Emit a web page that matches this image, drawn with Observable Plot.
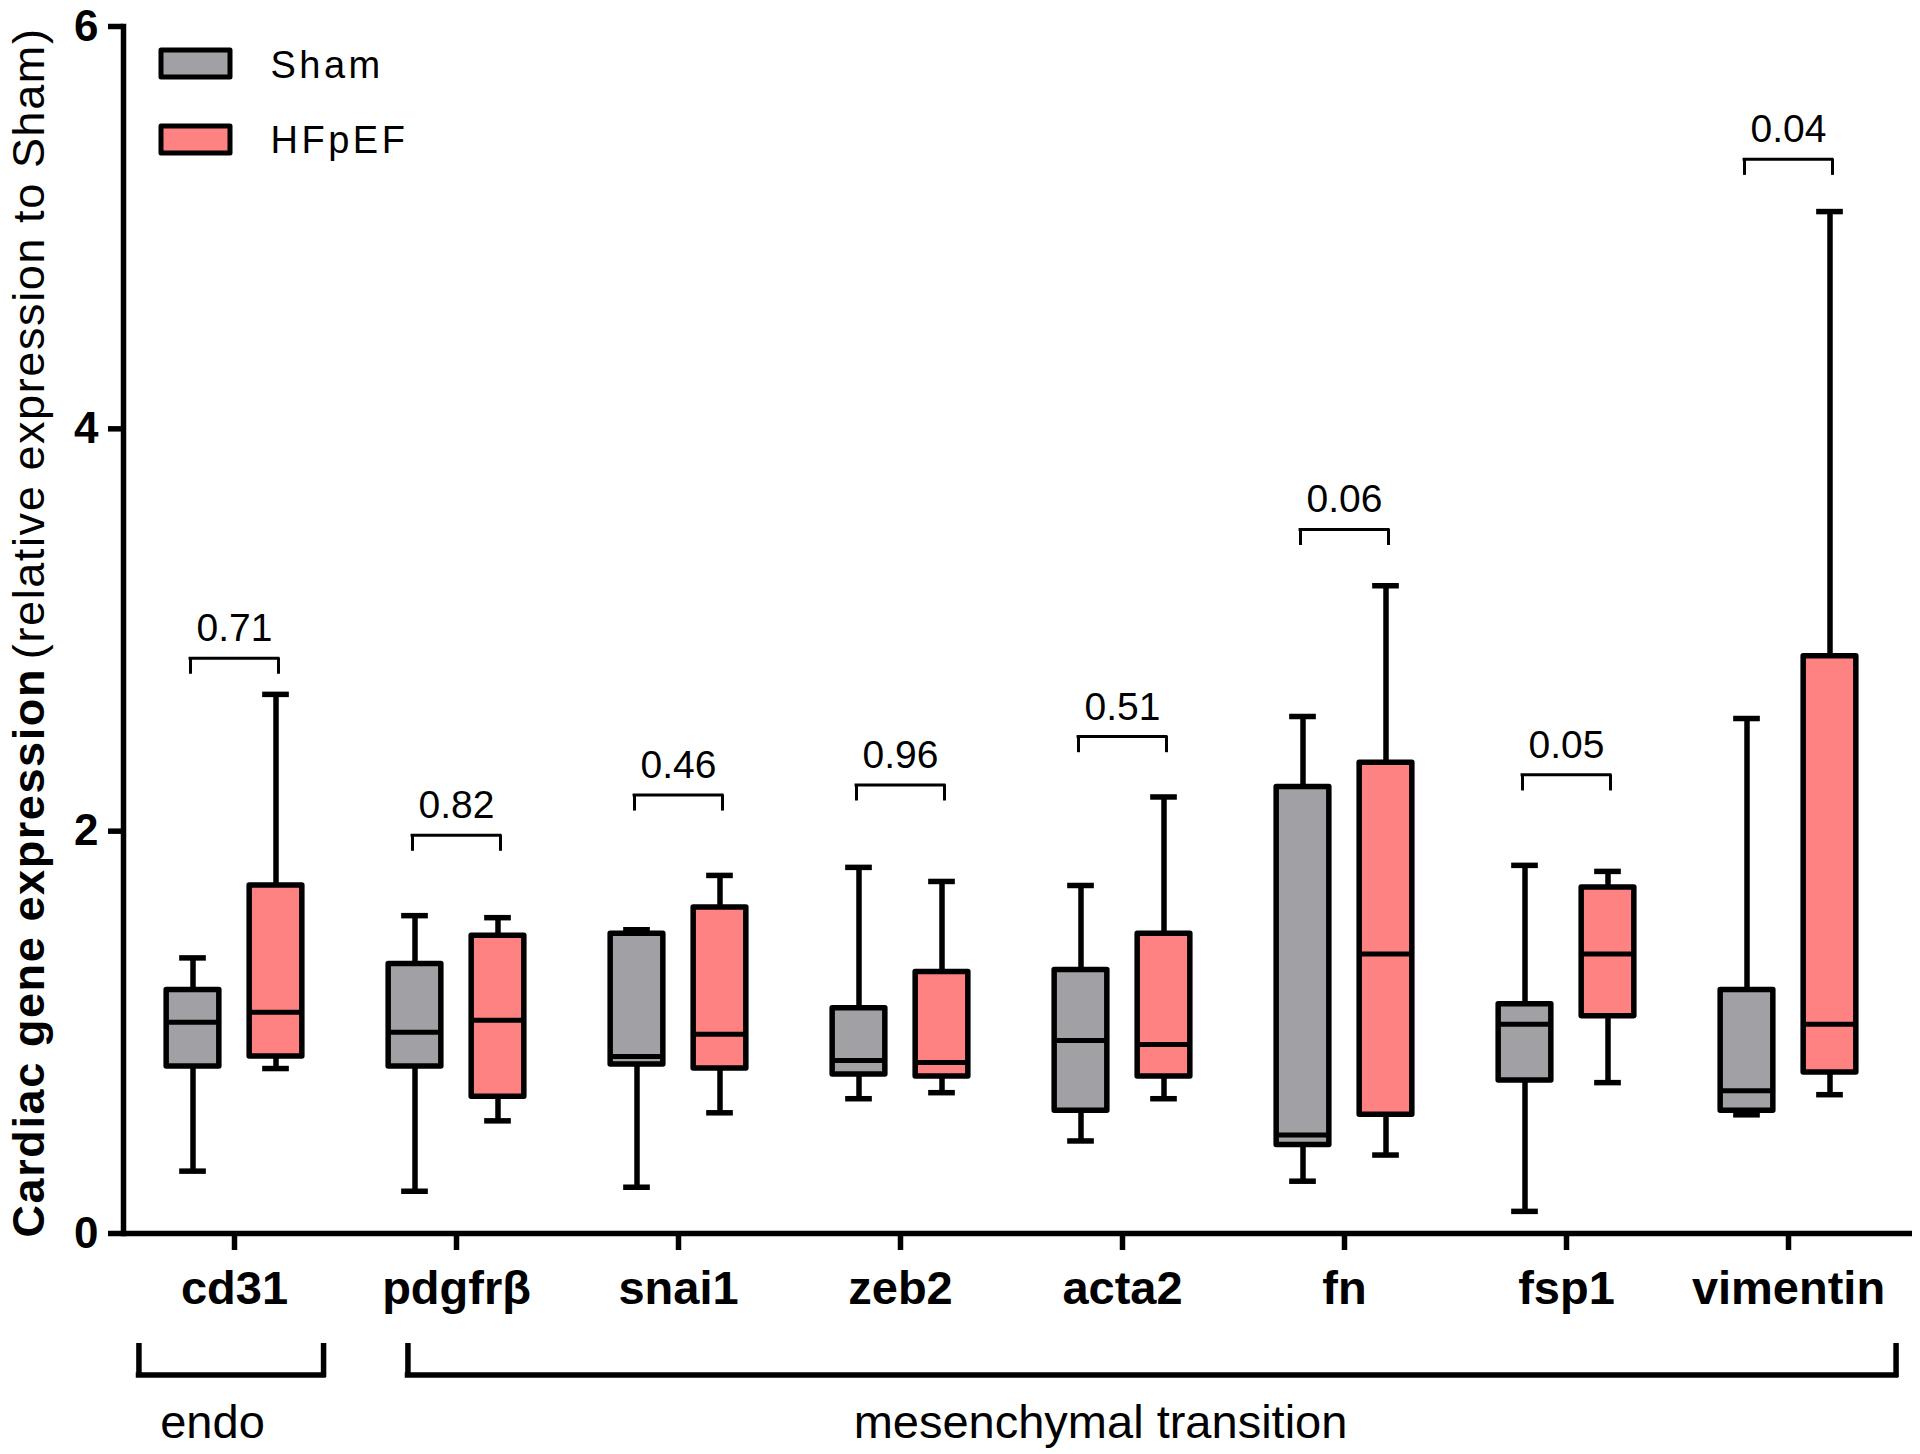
<!DOCTYPE html>
<html>
<head>
<meta charset="utf-8">
<script src="https://cdn.jsdelivr.net/npm/d3@7"></script>
<script src="https://cdn.jsdelivr.net/npm/@observablehq/plot@0.6"></script>
<style>
  html, body { margin: 0; padding: 0; background: white; }
  g[aria-description="legend-label"] text { letter-spacing: 3.5px; }
  g[aria-description="y-label"] text { letter-spacing: 1.6px; }
</style>
</head>
<body>
<div id="chart"></div>
<script>
// ---------------- data ----------------
const genes = ["cd31", "pdgfrβ", "snai1", "zeb2", "acta2", "fn", "fsp1", "vimentin"];
const groups = ["Sham", "HFpEF"];

// Sham: whisker min, Q1, median, Q3, whisker max
const shamMin    = [0.31, 0.21, 0.23, 0.67, 0.46, 0.26, 0.11, 0.59];
const shamQ1     = [0.83, 0.83, 0.84, 0.79, 0.61, 0.44, 0.76, 0.61];
const shamMedian = [1.05, 1.00, 0.88, 0.86, 0.96, 0.49, 1.04, 0.71];
const shamQ3     = [1.21, 1.34, 1.49, 1.12, 1.31, 2.22, 1.14, 1.21];
const shamMax    = [1.37, 1.58, 1.51, 1.82, 1.73, 2.57, 1.83, 2.56];

// HFpEF
const hfpefMin    = [0.82, 0.56, 0.60, 0.70, 0.67, 0.39, 0.75, 0.69];
const hfpefQ1     = [0.88, 0.68, 0.82, 0.78, 0.78, 0.59, 1.08, 0.80];
const hfpefMedian = [1.10, 1.06, 0.99, 0.85, 0.94, 1.39, 1.39, 1.04];
const hfpefQ3     = [1.73, 1.48, 1.62, 1.30, 1.49, 2.34, 1.72, 2.87];
const hfpefMax    = [2.68, 1.57, 1.78, 1.75, 2.17, 3.22, 1.80, 5.08];

// p values of the Sham vs HFpEF comparison, and the height of each bracket
const pValues      = ["0.71", "0.82", "0.46", "0.96", "0.51", "0.06", "0.05", "0.04"];
const bracketLevel = [2.86, 1.98, 2.18, 2.23, 2.47, 3.50, 2.28, 5.34];

// gene groups shown under the axis
const geneGroups = [
  {label: "endo", genes: ["cd31"]},
  {label: "mesenchymal transition", genes: ["pdgfrβ", "snai1", "zeb2", "acta2", "fn", "fsp1", "vimentin"]}
];

const yTicks = [0, 2, 4, 6];
const yLabelBold = "Cardiac gene expression";
const yLabelRegular = "(relative expression to Sham)";

// ---------------- tables ----------------
const boxes = genes.flatMap((gene, i) => [
  {gene, group: "Sham", min: shamMin[i], q1: shamQ1[i], median: shamMedian[i], q3: shamQ3[i], max: shamMax[i]},
  {gene, group: "HFpEF", min: hfpefMin[i], q1: hfpefQ1[i], median: hfpefMedian[i], q3: hfpefQ3[i], max: hfpefMax[i]}
]);
const brackets = genes.map((gene, i) => ({gene, p: pValues[i], level: bracketLevel[i]}));

// ---------------- styles / layout ----------------
const colors = {Sham: "#a1a0a5", HFpEF: "#ff8282"};
const font = "'Liberation Sans', Arial, Helvetica, sans-serif";
const xRange = [122, 1899];
const step = (xRange[1] - xRange[0]) / genes.length;
const groupOffset = {Sham: -41.5, HFpEF: 41.5};
const boxHalf = 26.4, capHalf = 13.4, bracketHalf = 44;
const lw = 5.5;
const groupBracketInsets = {"endo": [15.5, 22], "mesenchymal transition": [62.5, 3.5]};

const rectSymbol = {draw(context) { context.rect(-34.5, -13.5, 69, 27); }};

const boxMarks = groups.flatMap(grp => {
  const data = boxes.filter(d => d.group === grp);
  const off = groupOffset[grp];
  const bl = step / 2 + off - boxHalf, br = step / 2 - off - boxHalf;
  const cl = step / 2 + off - capHalf, cr = step / 2 - off - capHalf;
  return [
    Plot.ruleX(data, {x: "gene", y1: "min", y2: "max", dx: off, stroke: "black", strokeWidth: lw}),
    Plot.tickY(data, {x: "gene", y: "min", insetLeft: cl, insetRight: cr, stroke: "black", strokeWidth: lw}),
    Plot.tickY(data, {x: "gene", y: "max", insetLeft: cl, insetRight: cr, stroke: "black", strokeWidth: lw}),
    Plot.barY(data, {x: "gene", y1: "q1", y2: "q3", insetLeft: bl, insetRight: br,
      fill: colors[grp], stroke: "black", strokeWidth: lw, strokeLinejoin: "round"}),
    Plot.tickY(data, {x: "gene", y: "median", insetLeft: bl, insetRight: br, stroke: "black", strokeWidth: 5})
  ];
});

const bracketMarks = [
  Plot.ruleY(brackets, {x1: "gene", x2: "gene", y: "level", insetLeft: step / 2 - bracketHalf,
    insetRight: step / 2 - bracketHalf, stroke: "black", strokeWidth: 3, strokeLinecap: "square"}),
  Plot.ruleX(brackets, {x: "gene", y1: "level", y2: d => d.level - 0.08, dx: -bracketHalf, stroke: "black", strokeWidth: 3}),
  Plot.ruleX(brackets, {x: "gene", y1: "level", y2: d => d.level - 0.08, dx: bracketHalf, stroke: "black", strokeWidth: 3}),
  Plot.text(brackets, {x: "gene", y: "level", text: "p", dy: -17, lineAnchor: "bottom", fontSize: 39, fill: "black"})
];

const groupMarks = geneGroups.flatMap(g => {
  const [il, ir] = groupBracketInsets[g.label];
  const first = g.genes[0], last = g.genes[g.genes.length - 1];
  const mid = g.genes[Math.floor(g.genes.length / 2)];
  return [
    Plot.ruleY([g], {x1: () => first, x2: () => last, y: () => 0, dy: 141.5, insetLeft: il, insetRight: ir,
      stroke: "black", strokeWidth: lw, strokeLinecap: "square"}),
    Plot.ruleX([g], {x: () => first, y1: () => 0, y2: () => 0, dx: -(step / 2 - il), insetTop: 110, insetBottom: -144,
      stroke: "black", strokeWidth: lw}),
    Plot.ruleX([g], {x: () => last, y1: () => 0, y2: () => 0, dx: step / 2 - ir, insetTop: 110, insetBottom: -144,
      stroke: "black", strokeWidth: lw}),
    Plot.text([g], {x: () => mid, y: () => 0, text: "label", dx: -22, dy: 204, lineAnchor: "bottom",
      fontSize: 47, fill: "black"})
  ];
});

const legendMarks = groups.flatMap((g, i) => [
  Plot.dot([g], {frameAnchor: "top-left", dx: 72, dy: 37 + i * 76, symbol: rectSymbol,
    fill: colors[g], stroke: "black", strokeWidth: 5, strokeLinejoin: "round"}),
  Plot.text([g], {frameAnchor: "top-left", dx: 147, dy: 51 + i * 75, text: d => d, textAnchor: "start",
    lineAnchor: "bottom", fontSize: 38, fill: "black", ariaDescription: "legend-label"})
]);

const chart = Plot.plot({
  width: 1920,
  height: 1454,
  marginTop: 26,
  marginLeft: 123,
  marginRight: 8,
  marginBottom: 221,
  style: {fontFamily: font, background: "white", color: "black", overflow: "visible"},
  x: {domain: genes, range: xRange, padding: 0},
  y: {domain: [0, 6]},
  marks: [
    ...boxMarks,
    ...bracketMarks,
    Plot.frame({anchor: "left", stroke: "black", strokeWidth: lw}),
    Plot.ruleY([0], {stroke: "black", strokeWidth: lw}),
    Plot.axisY({ticks: yTicks, tickSize: 15, tickPadding: 10, fontSize: 44, fontWeight: "bold",
      strokeWidth: lw, label: null, tickFormat: d => String(d)}),
    Plot.axisX({tickSize: 17, tickPadding: 20, fontSize: 47, fontWeight: "bold", strokeWidth: lw, label: null}),
    Plot.text([yLabelBold], {frameAnchor: "bottom-left", rotate: -90, textAnchor: "start", lineAnchor: "bottom",
      dx: -80, dy: 4, fontSize: 45, fontWeight: "bold", fill: "black", text: d => d, ariaDescription: "y-label"}),
    Plot.text([yLabelRegular], {frameAnchor: "top-left", rotate: -90, textAnchor: "end", lineAnchor: "bottom",
      dx: -80, dy: 1, fontSize: 45, fill: "black", text: d => d, ariaDescription: "y-label"}),
    ...groupMarks,
    ...legendMarks
  ]
});
document.getElementById("chart").appendChild(chart);
</script>
</body>
</html>
